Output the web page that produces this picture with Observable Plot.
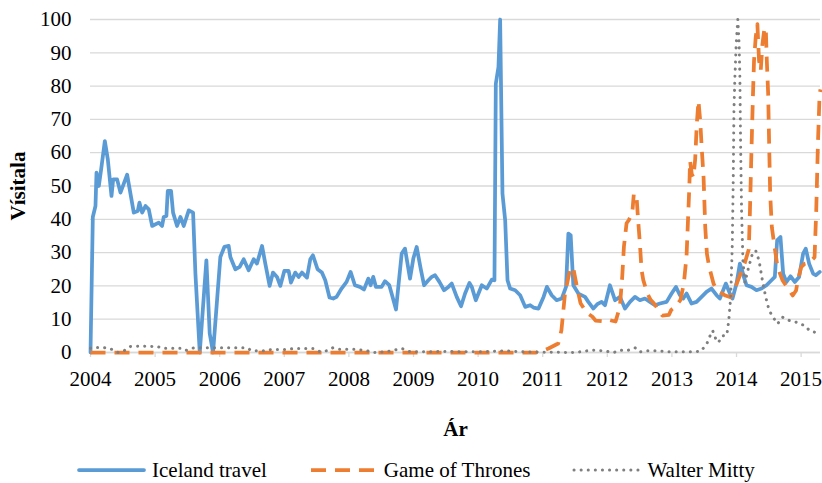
<!DOCTYPE html>
<html>
<head>
<meta charset="utf-8">
<script src="https://cdn.jsdelivr.net/npm/d3@7"></script>
<script src="https://cdn.jsdelivr.net/npm/@observablehq/plot@0.6"></script>
<style>
  html, body { margin: 0; padding: 0; background: #fff; overflow: hidden; }
  #chart { width: 822px; }
  g[aria-label="x-axis label"] text, g[aria-label="y-axis label"] text,
  g[aria-label="x-axis label"], g[aria-label="y-axis label"] { font-weight: bold; }
  .legend { display: flex; align-items: center; height: 26px; line-height: 26px; margin-top: 2px; margin-left: 77px; gap: 42px;
            font-family: "Liberation Serif", "Times New Roman", serif; font-size: 21px; color: #000; white-space: nowrap; }
  .legend .item { display: flex; align-items: center; }
  .legend svg { margin-right: 6px; }
</style>
</head>
<body>
<div id="chart"></div>
<script>
// ---- data (year as decimal, value = search index) ----
const yearTicks = [2004, 2005, 2006, 2007, 2008, 2009, 2010, 2011, 2012, 2013, 2014, 2015];
const valueTicks = [0, 10, 20, 30, 40, 50, 60, 70, 80, 90, 100];
const seriesNames = ["Iceland travel", "Game of Thrones", "Walter Mitty"];

const icelandTravel = [
  [2004.000,0],[2004.036,40.7],[2004.077,44],[2004.093,54],[2004.129,50],[2004.165,55],[2004.222,63.5],
  [2004.268,58],[2004.325,47],[2004.351,52],[2004.412,52],[2004.464,48],[2004.567,53.4],[2004.670,42],
  [2004.732,42.5],[2004.758,45],[2004.799,42],[2004.851,44],[2004.902,43],[2004.954,38],[2005.057,39],
  [2005.108,38],[2005.134,40.7],[2005.175,41],[2005.196,48.5],[2005.247,48.5],[2005.278,42],[2005.340,38],
  [2005.392,40.7],[2005.443,38],[2005.521,42.7],[2005.588,42],[2005.624,23.7],[2005.691,0],[2005.794,27.7],
  [2005.845,5.7],[2005.897,0],[2005.959,15.7],[2006.010,28.7],[2006.072,31.7],[2006.139,32],[2006.165,28.7],
  [2006.242,25],[2006.309,25.7],[2006.371,28],[2006.448,24.7],[2006.526,28],[2006.577,26.7],[2006.655,32],
  [2006.706,26.7],[2006.773,20],[2006.825,24],[2006.887,22.7],[2006.938,20],[2007.000,24.5],[2007.067,24.5],
  [2007.103,21],[2007.170,24],[2007.222,22.7],[2007.273,24],[2007.351,22.5],[2007.402,28],[2007.443,29.2],
  [2007.515,25],[2007.582,24],[2007.634,21.7],[2007.700,16.5],[2007.757,16.2],[2007.809,16.7],[2007.886,19.2],
  [2007.964,21.2],[2008.026,24.2],[2008.093,20.2],[2008.171,19.7],[2008.233,18.9],[2008.300,22.2],[2008.336,20.2],
  [2008.377,22.7],[2008.419,19.7],[2008.506,19.7],[2008.558,21.4],[2008.625,20.2],[2008.661,17.7],[2008.729,12.9],
  [2008.817,29.7],[2008.868,31.2],[2008.946,22.2],[2008.997,28.2],[2009.049,31.7],[2009.111,25.2],[2009.163,20.2],
  [2009.230,21.7],[2009.282,22.7],[2009.333,23.2],[2009.401,21.2],[2009.473,18.7],[2009.540,19.7],[2009.592,20.7],
  [2009.669,16.7],[2009.736,13.9],[2009.798,17.7],[2009.866,20.9],[2009.902,19.7],[2009.964,15.7],[2010.057,20.2],
  [2010.134,19.2],[2010.212,21.9],[2010.253,21.7],[2010.274,80.7],[2010.315,85.7],[2010.341,100],[2010.377,47.7],
  [2010.419,39.7],[2010.455,21.7],[2010.496,19.2],[2010.574,18.7],[2010.651,17.2],[2010.729,13.7],[2010.806,14.2],
  [2010.858,13.5],[2010.935,13.2],[2011.013,16.7],[2011.065,19.7],[2011.139,17.2],[2011.216,15.7],[2011.294,16.2],
  [2011.361,19.7],[2011.397,35.7],[2011.433,35.2],[2011.474,20.2],[2011.552,17.7],[2011.655,16.7],[2011.706,15.2],
  [2011.784,13.2],[2011.845,14.5],[2011.912,15.2],[2011.964,14.2],[2012.041,20.2],[2012.119,15.7],[2012.196,16.7],
  [2012.273,13.2],[2012.351,15.2],[2012.428,16.7],[2012.505,15.7],[2012.582,16.2],[2012.660,15.2],[2012.737,14.2],
  [2012.814,14.7],[2012.918,15.2],[2012.995,17.7],[2013.062,19.7],[2013.124,17.2],[2013.175,16.2],[2013.227,17.7],
  [2013.304,14.7],[2013.381,15.2],[2013.459,16.7],[2013.536,18.2],[2013.613,19.2],[2013.691,17.2],[2013.742,16.2],
  [2013.835,20.7],[2013.897,17.7],[2013.938,16.2],[2014.000,20.7],[2014.052,26.7],[2014.093,24.2],[2014.113,22.7],
  [2014.155,20.2],[2014.232,19.7],[2014.309,18.7],[2014.387,19.2],[2014.464,20.2],[2014.541,21.7],[2014.593,22.7],
  [2014.629,33.7],[2014.680,34.7],[2014.722,23.7],[2014.773,21.2],[2014.835,22.9],[2014.902,21.2],[2014.969,22.7],
  [2015.031,29.7],[2015.072,31.2],[2015.124,26.7],[2015.186,23.7],[2015.227,23.2],[2015.289,24.2]
];

const gameOfThrones = [
  [2004.0,0],[2010.9,0],[2011.0,0.5],[2011.09,1.2],[2011.24,2.7],[2011.29,6.7],[2011.345,17.7],[2011.42,24.7],
  [2011.47,25.7],[2011.52,20.7],[2011.585,14.8],[2011.688,11.8],[2011.766,10.8],[2011.818,9.6],[2011.972,9.3],
  [2012.024,9.8],[2012.128,9.3],[2012.195,13.8],[2012.231,22.8],[2012.257,31.8],[2012.298,38.8],[2012.334,39.8],
  [2012.386,41.8],[2012.411,47.8],[2012.453,46.8],[2012.473,40.8],[2012.504,32.8],[2012.530,24.8],[2012.556,21.8],
  [2012.618,17.8],[2012.670,15.8],[2012.721,14.8],[2012.850,11.1],[2012.953,11.3],[2012.989,12.8],[2013.056,13.8],
  [2013.133,15.8],[2013.185,20.8],[2013.226,28.8],[2013.247,38.8],[2013.27,50],[2013.281,57.6],[2013.307,53.6],
  [2013.333,52.6],[2013.36,58],[2013.385,68.6],[2013.411,75.6],[2013.438,69.6],[2013.464,60.6],[2013.490,52.6],
  [2013.516,37.6],[2013.542,29.6],[2013.578,25.6],[2013.646,20.6],[2013.698,18.6],[2013.828,17.1],[2013.906,16.6],
  [2013.96,18.5],[2014.05,23],[2014.13,27],[2014.19,31],[2014.208,42.6],[2014.234,62.6],[2014.255,77.6],
  [2014.271,87.6],[2014.297,94.6],[2014.323,98.6],[2014.349,87.6],[2014.375,84.6],[2014.401,92.6],[2014.427,96.6],
  [2014.453,97.6],[2014.469,87.6],[2014.490,77.6],[2014.505,62.6],[2014.521,47.6],[2014.547,37.6],[2014.583,32.6],
  [2014.635,25.6],[2014.714,21.6],[2014.818,18.6],[2014.870,17.1],[2014.922,18.6],[2014.948,21.6],[2015.0,25.6],
  [2015.052,26.6],[2015.13,27],[2015.208,28.6],[2015.234,42.6],[2015.260,62.6],[2015.286,77.6],[2015.3,79]
];

const walterMitty = [
  [2004.0,1.3],[2004.05,1.5],[2004.2,1.5],[2004.3,1.2],[2004.43,0],[2004.5,0.3],[2004.62,1.8],[2004.8,1.9],
  [2005.04,1.8],[2005.1,1.3],[2005.39,1.3],[2005.47,0.6],[2005.6,1.4],[2006.0,1.4],[2006.42,1.4],[2006.5,0.5],
  [2006.7,0.5],[2006.8,0.9],[2007.04,0.9],[2007.15,1.2],[2007.45,1.2],[2007.56,0.2],[2007.65,0.5],[2007.75,1.4],
  [2007.85,1.0],[2008.1,1.0],[2008.25,0.6],[2008.4,0],[2008.6,0.3],[2008.82,1.2],[2008.95,0.2],[2009.5,0.3],
  [2010.0,0.2],[2010.4,0.5],[2010.7,0.2],[2011.0,0.1],[2011.5,0],[2011.76,0.7],[2011.95,0.5],[2012.1,0],
  [2012.2,0.7],[2012.3,0.5],[2012.43,1.4],[2012.5,0.2],[2012.6,0.5],[2012.8,0.5],[2012.95,0.2],[2013.3,0.2],
  [2013.45,0.4],[2013.54,2.6],[2013.59,5],[2013.63,6.6],[2013.68,4],[2013.72,3],[2013.78,5],[2013.85,5.2],
  [2013.88,9.6],[2013.91,16.6],[2013.935,32.6],[2013.95,52.6],[2013.96,72.6],[2013.975,82.6],[2013.995,92.6],
  [2014.02,100],[2014.04,92.6],[2014.052,82.6],[2014.063,62.6],[2014.078,42.6],[2014.099,27.6],[2014.13,21],
  [2014.18,25],[2014.245,29.6],[2014.297,30.6],[2014.349,27.6],[2014.401,21.6],[2014.453,16.6],[2014.505,12.6],
  [2014.583,10.1],[2014.635,8.6],[2014.714,10.6],[2014.818,9.6],[2014.922,9.1],[2015.052,8.1],[2015.13,6.6],
  [2015.208,6.1],[2015.29,5.1]
];

// ---- styles ----
const seriesStyles = [
  {stroke: "#5B9BD5", strokeWidth: 3.75, strokeDasharray: null, strokeLinecap: "round"},
  {stroke: "#ED7D31", strokeWidth: 3.75, strokeDasharray: "15,9", strokeLinecap: "butt"},
  {stroke: "#7F7F7F", strokeWidth: 3, strokeDasharray: "0.1,7", strokeLinecap: "round"}
];
const seriesData = [icelandTravel, gameOfThrones, walterMitty];

const lineMarks = seriesData.map((arr, i) => Plot.line(arr, {
  x: d => d[0], y: d => d[1],
  stroke: seriesStyles[i].stroke,
  strokeWidth: seriesStyles[i].strokeWidth,
  strokeDasharray: seriesStyles[i].strokeDasharray,
  strokeLinecap: seriesStyles[i].strokeLinecap,
  strokeLinejoin: "round"
}));

const chart = Plot.plot({
  width: 822,
  height: 455,
  marginLeft: 90,
  marginRight: 2,
  marginTop: 19,
  marginBottom: 103,
  style: {fontFamily: "'Liberation Serif', 'Times New Roman', serif", fontSize: "21px", color: "#000", background: "#fff", overflow: "visible"},
  x: {domain: [2004, 2015.3]},
  y: {domain: [0, 100]},
  marks: [
    Plot.gridY(valueTicks, {stroke: "#d9d9d9", strokeOpacity: 1, strokeWidth: 1.3}),
    Plot.axisY(valueTicks, {tickSize: 0, tickPadding: 19, fill: "#000", label: "Vísitala", labelAnchor: "center", labelArrow: "none", labelOffset: 80}),
    Plot.axisX(yearTicks, {tickSize: 5, tickPadding: 14, stroke: "#d9d9d9", strokeOpacity: 1, strokeWidth: 1.3, fill: "#000",
      tickFormat: d => String(d), label: "Ár", labelAnchor: "center", labelArrow: "none", labelOffset: 83}),
    Plot.ruleY([0], {stroke: "#d9d9d9", strokeWidth: 1.3}),
    ...lineMarks
  ]
});
document.getElementById("chart").appendChild(chart);

// ---- legend (HTML, below the SVG) ----
const legend = document.createElement("div");
legend.className = "legend";
seriesNames.forEach((name, i) => {
  const s = seriesStyles[i];
  const item = document.createElement("div");
  item.className = "item";
  const sw = d3.create("svg").attr("width", 69).attr("height", 12);
  sw.append("line").attr("x1", 2).attr("x2", 67).attr("y1", 6).attr("y2", 6)
    .attr("stroke", s.stroke).attr("stroke-width", s.strokeWidth)
    .attr("stroke-dasharray", s.strokeDasharray).attr("stroke-linecap", s.strokeLinecap);
  item.appendChild(sw.node());
  const label = document.createElement("span");
  label.textContent = name;
  item.appendChild(label);
  legend.appendChild(item);
});
document.getElementById("chart").appendChild(legend);
</script>
</body>
</html>
